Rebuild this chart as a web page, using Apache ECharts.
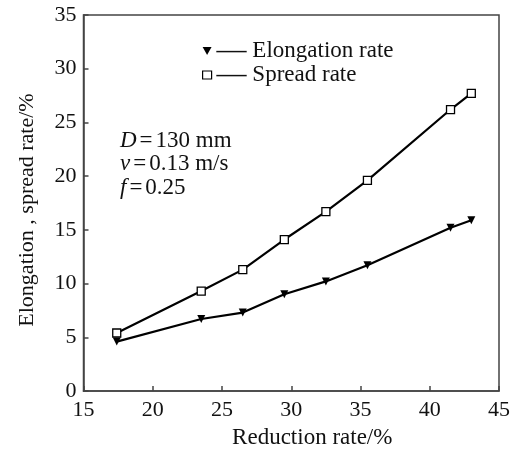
<!DOCTYPE html>
<html>
<head>
<meta charset="utf-8">
<script src="https://cdn.jsdelivr.net/npm/echarts@6/dist/echarts.min.js"></script>
<style>html,body{margin:0;padding:0;background:#fff;}#c{width:513px;height:455px;}</style>
</head>
<body>
<div id="c"></div>
<script>
const reduction = [17.4, 23.5, 26.5, 29.5, 32.5, 35.5, 41.5, 43.0];
const elongationRate = [4.6, 6.7, 7.3, 9.0, 10.2, 11.7, 15.2, 15.9];
const spreadRate = [5.4, 9.3, 11.3, 14.1, 16.7, 19.6, 26.2, 27.7];
const xTicks = [15, 20, 25, 30, 35, 40, 45];
const yTicks = [0, 5, 10, 15, 20, 25, 30, 35];
const seriesNames = ['Elongation rate', 'Spread rate'];
const notes = ['{i|D}{e|=}130 mm', '{i|v}{e|=}0.13 m/s', '{i|f}{e|=}0.25'];

const FONT = '"Liberation Serif", "Times New Roman", serif';
const chart = echarts.init(document.getElementById('c'));
const pair = (xs, ys) => xs.map((x, i) => [x, ys[i]]);

chart.setOption({
  animation: false,
  backgroundColor: '#fff',
  grid: { left: 83.5, right: 12, top: 15, bottom: 64, show: true, borderColor: '#444', borderWidth: 1.5, backgroundColor: 'transparent' },
  xAxis: {
    type: 'value', min: xTicks[0], max: xTicks[xTicks.length - 1], interval: 5,
    name: 'Reduction rate/%', nameLocation: 'middle', nameGap: 35,
    nameTextStyle: { fontFamily: FONT, fontSize: 23, color: '#111', padding: [0, 0, 0, 42] },
    axisLine: { lineStyle: { color: '#444', width: 1.5 } },
    axisTick: { inside: true, length: 5, lineStyle: { color: '#444', width: 1.5 } },
    axisLabel: { fontFamily: FONT, fontSize: 22, color: '#111', margin: 8 },
    splitLine: { show: false }
  },
  yAxis: {
    type: 'value', min: yTicks[0], max: yTicks[yTicks.length - 1], interval: 5,
    name: 'Elongation , spread rate/%', nameLocation: 'middle', nameGap: 45,
    nameTextStyle: { fontFamily: FONT, fontSize: 22, color: '#111', padding: [0, 14, 0, 0] },
    axisLine: { lineStyle: { color: '#444', width: 1.5 } },
    axisTick: { inside: true, length: 5, lineStyle: { color: '#444', width: 1.5 } },
    axisLabel: { fontFamily: FONT, fontSize: 22, color: '#111', margin: 7 },
    splitLine: { show: false }
  },
  legend: {
    orient: 'vertical', left: 197, top: 31, itemGap: -6, itemWidth: 9, itemHeight: 8,
    textStyle: {
      fontFamily: FONT, fontSize: 23, color: '#111', lineHeight: 24,
      rich: { d: { fontFamily: FONT, fontSize: 30, color: '#111', lineHeight: 24 } }
    },
    formatter: n => '{d|—} ' + n,
    data: [
      { name: seriesNames[0], icon: 'path://M0,0L10,0L5,9Z', itemStyle: { color: '#000', borderWidth: 0 } },
      { name: seriesNames[1], icon: 'rect', itemStyle: { color: '#fff', borderColor: '#000', borderWidth: 1.2 } }
    ]
  },
  graphic: notes.map((t, i) => ({
    type: 'text', left: 120, top: 129 + i * 23.5,
    style: {
      text: t, fontFamily: FONT, fontSize: 23, fill: '#111',
      rich: {
        i: { fontFamily: FONT, fontSize: 23, fontStyle: 'italic', fill: '#111' },
        e: { fontFamily: FONT, fontSize: 23, fill: '#111', padding: [0, 3, 0, 3] }
      }
    }
  })),
  series: [
    {
      name: seriesNames[0], type: 'line', data: pair(reduction, elongationRate),
      symbol: 'triangle', symbolRotate: 180, symbolSize: 8,
      lineStyle: { color: '#000', width: 2.2 },
      itemStyle: { color: '#000' }, z: 3
    },
    {
      name: seriesNames[1], type: 'line', data: pair(reduction, spreadRate),
      symbol: 'rect', symbolSize: 8, showAllSymbol: true,
      lineStyle: { color: '#000', width: 2.2 },
      itemStyle: { color: '#fff', borderColor: '#000', borderWidth: 1.3 }, z: 3
    }
  ]
});
</script>
</body>
</html>
